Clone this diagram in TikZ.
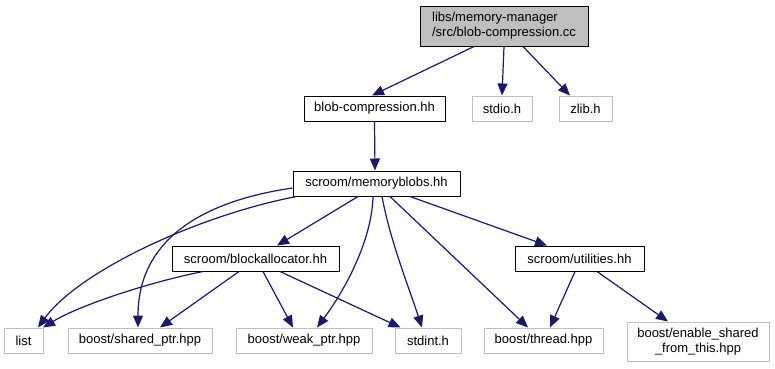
\documentclass[tikz,border=0pt]{standalone}
\usepackage{fontspec}
\setmainfont{Liberation Sans}
\usepackage{tikz}
\usetikzlibrary{arrows.meta}
\usepackage{xcolor}
\definecolor{Edge}{RGB}{25,25,112}
\definecolor{Ext}{RGB}{191,191,191}

\begin{document}
\begin{tikzpicture}[x=1pt,y=-1pt,
  file/.style={draw=black,line width=1pt,inner sep=0pt,minimum height=25pt,font=\fontsize{13}{15}\selectfont},
  extfile/.style={file,draw=Ext},
  inc/.style={Edge,line width=1.2pt,-{Triangle[length=12pt,width=10pt]}}]
\useasboundingbox (0,0) rectangle (775,368);
%
% files
\node[file,fill=Ext,minimum width=168pt,minimum height=40pt,align=left] (root) at (504,26) {libs/memory-manager\\/src/blob-compression.cc};
\node[file,minimum width=141pt] (bc) at (374.5,108.5) {blob-compression.hh};
\node[extfile,minimum width=60pt] (stdio) at (502,108.5) {stdio.h};
\node[extfile,minimum width=53pt] (zlib) at (585.5,108.5) {zlib.h};
\node[file,minimum width=167pt] (mb) at (376.5,183.5) {scroom/memoryblobs.hh};
\node[file,minimum width=167pt] (ba) at (255.5,258.5) {scroom/blockallocator.hh};
\node[file,minimum width=129pt] (ut) at (579.5,258.5) {scroom/utilities.hh};
\node[extfile,minimum width=39pt] (list) at (23.5,340.5) {list};
\node[extfile,minimum width=144pt] (sp) at (140,340.5) {boost/shared\_ptr.hpp};
\node[extfile,minimum width=136pt] (wp) at (304,340.5) {boost/weak\_ptr.hpp};
\node[extfile,minimum width=66pt] (si) at (428,340.5) {stdint.h};
\node[extfile,minimum width=119pt] (th) at (543.5,340.5) {boost/thread.hpp};
\node[extfile,minimum width=142pt,minimum height=39pt,align=center] (es) at (698,341.5) {boost/enable\_shared\\\_from\_this.hpp};
%
% includes of the source file
\draw[inc] ([xshift=-30pt]root.south) -- ([xshift=-2.5pt]bc.north);
\draw[inc] (root.south) -- (stdio.north);
\draw[inc] ([xshift=19pt]root.south) -- ([xshift=-15.5pt]zlib.north);
\draw[inc] (bc.south) -- ([xshift=-1.5pt]mb.north);
%
% includes of memoryblobs.hh
\draw[inc] ([yshift=-4.5pt]mb.west) .. controls (210,200) and (138,235) .. ([xshift=-2pt]sp.north);
\draw[inc] ([xshift=4pt]mb.south west) .. controls (200,215) and (80,270) .. ([xshift=14.5pt]list.north);
\draw[inc] ([xshift=-18.5pt]mb.south) -- ([xshift=21.5pt]ba.north);
\draw[inc] ([xshift=-3.5pt]mb.south) .. controls (372,240) and (345,290) .. ([xshift=13pt]wp.north);
\draw[inc] ([xshift=5.5pt]mb.south) .. controls (390,240) and (408,285) .. ([xshift=-6pt]si.north);
\draw[inc] ([xshift=13.5pt]mb.south) -- ([xshift=-15.5pt]th.north);
\draw[inc] ([xshift=33.5pt]mb.south) -- ([xshift=-32.5pt]ut.north);
%
% includes of blockallocator.hh and utilities.hh
\draw[inc] ([xshift=-52.5pt]ba.south) .. controls (150,282) and (80,305) .. ([xshift=19.5pt]list.north);
\draw[inc] ([xshift=-16.5pt]ba.south) -- ([xshift=20pt]sp.north);
\draw[inc] ([xshift=7.5pt]ba.south) -- ([xshift=-11pt]wp.north);
\draw[inc] ([xshift=24.5pt]ba.south) -- ([xshift=6pt]si.north west);
\draw[inc] ([xshift=-4.5pt]ut.south) -- ([xshift=6.5pt]th.north);
\draw[inc] ([xshift=17.5pt]ut.south) -- ([xshift=-30pt]es.north);
\end{tikzpicture}
\end{document}
